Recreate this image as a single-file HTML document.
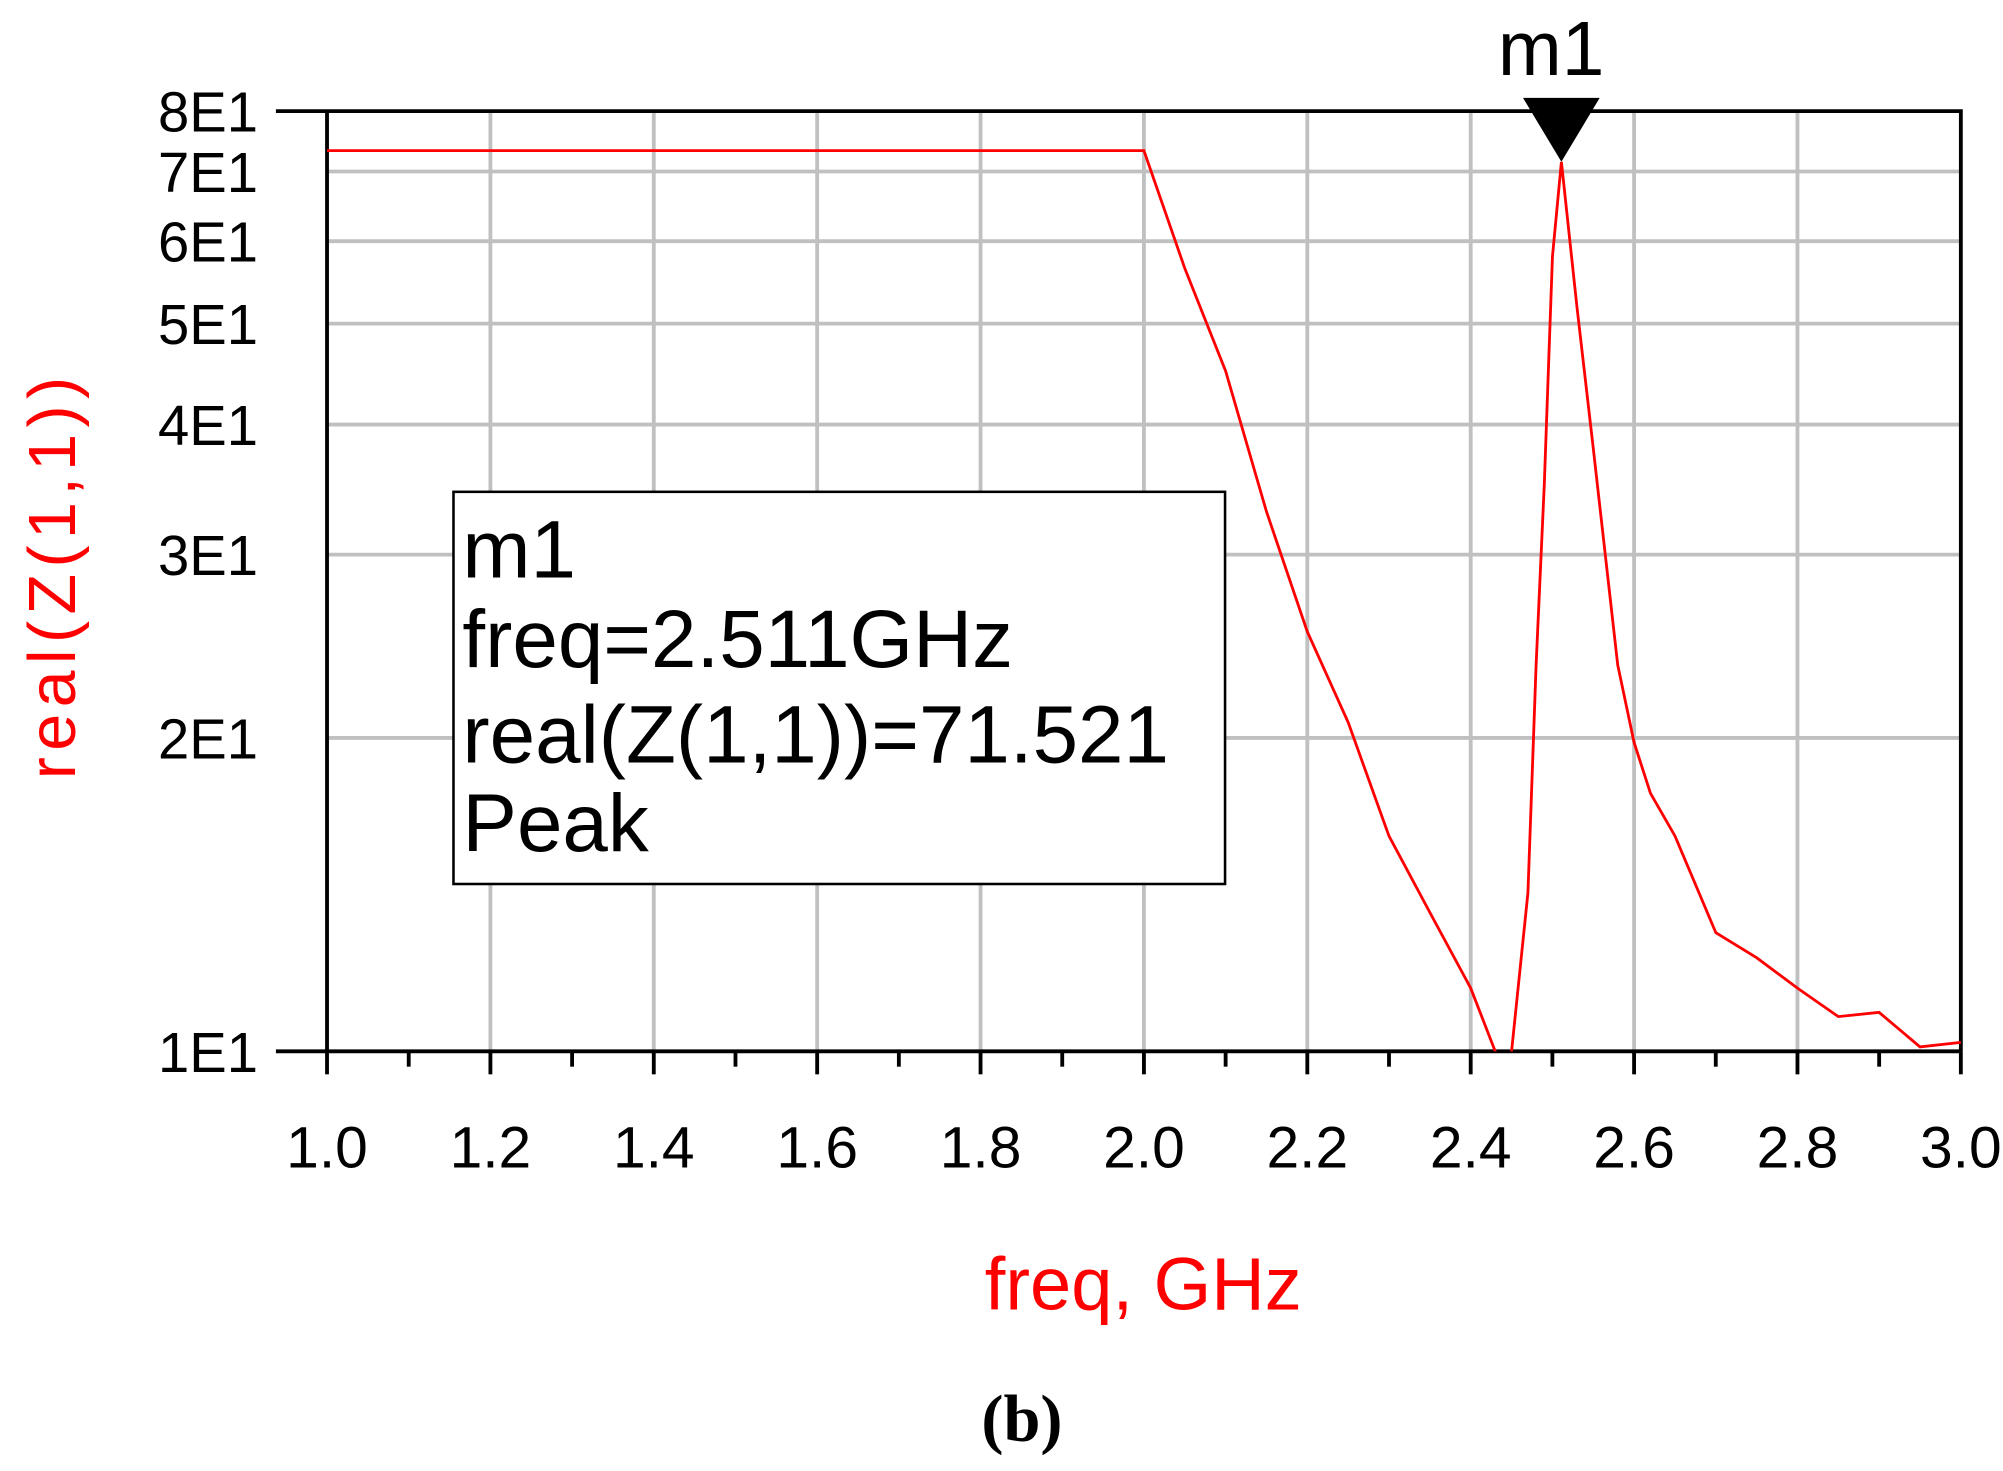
<!DOCTYPE html>
<html><head><meta charset="utf-8"><style>
html,body{margin:0;padding:0;background:#fff;}
svg{display:block;}
text{font-family:"Liberation Sans",Arial,sans-serif;}
</style></head><body>
<svg id="chart" width="2003" height="1471" viewBox="0 0 1568 1151.5" xmlns="http://www.w3.org/2000/svg">
<g id="grid"></g>
<g id="axes"></g>
<clipPath id="clip"><rect x="256" y="60" width="1280" height="763"/></clipPath>
<g id="series" clip-path="url(#clip)"></g>
<rect x="355" y="385" width="604" height="307" fill="#fff" stroke="#000" stroke-width="2"/>
<g font-size="64" fill="#000">
<text x="362" y="452">m1</text>
<text x="362" y="522">freq=2.511GHz</text>
<text x="362" y="597">real(Z(1,1))=71.521</text>
<text x="362" y="666">Peak</text>
</g>
<g id="marker"></g>
<text x="45" y="450" transform="rotate(-90 45 450)" text-anchor="middle" dominant-baseline="middle" font-size="52" letter-spacing="5" fill="#ff0000">real(Z(1,1))</text>
<text x="895" y="1025" text-anchor="middle" font-size="58" fill="#ff0000">freq, GHz</text>
<text x="800" y="1128" text-anchor="middle" font-size="52" font-weight="bold" fill="#000" style="font-family:'Liberation Serif',serif">(b)</text>
</svg>
<script>
const freqs=[1.0,2.0,2.05,2.1,2.15,2.2,2.25,2.3,2.35,2.4,2.43,2.44,2.45,2.47,2.48,2.49,2.5,2.511,2.53,2.55,2.58,2.6,2.62,2.65,2.7,2.75,2.8,2.85,2.9,2.95,3.0];
const values=[73.3,73.3,56.5,45,33,25.3,20.7,16.1,13.6,11.5,10,9,10,14.2,23.5,35,58,71.5,52,38,23.5,19.8,17.7,16.1,13,12.3,11.5,10.8,10.9,10.1,10.2];
const xTicks=[1.0,1.2,1.4,1.6,1.8,2.0,2.2,2.4,2.6,2.8,3.0];
const xTickLabels=["1.0","1.2","1.4","1.6","1.8","2.0","2.2","2.4","2.6","2.8","3.0"];
const yTicks=[10,20,30,40,50,60,70,80];
const yTickLabels=["1E1","2E1","3E1","4E1","5E1","6E1","7E1","8E1"];
const markerFreq=2.511, markerValue=71.521;

const L=256,R=1535,B=823,PPD=815;
const xs=f=>L+(f-1)/(3-1)*(R-L);
const ys=v=>B-Math.log10(v/10)*PPD;
const NS="http://www.w3.org/2000/svg";
function mk(tag,attrs,parent){const e=document.createElementNS(NS,tag);for(const k in attrs)e.setAttribute(k,attrs[k]);parent.appendChild(e);return e;}
const grid=document.getElementById('grid'),axes=document.getElementById('axes'),series=document.getElementById('series'),marker=document.getElementById('marker');
xTicks.forEach((t,i)=>{
  const x=xs(t);
  if(i>0&&i<xTicks.length-1){const g=mk('line',{x1:x,x2:x,y1:ys(80),y2:B,stroke:'#c0c0c0','stroke-width':3},grid);
  
  }
  const tk=mk('line',{x1:x,x2:x,y1:B,y2:B+18,stroke:'#000','stroke-width':3},axes);
  
  
  const lb=mk('text',{x:x,y:914,'text-anchor':'middle','font-size':46,fill:'#000'},axes);
  lb.textContent=xTickLabels[i];
  
  
  if(i<xTicks.length-1){const xm=xs(t+0.1);const m=mk('line',{x1:xm,x2:xm,y1:B,y2:B+12,stroke:'#000','stroke-width':3},axes);
  
  }
});
yTicks.forEach((v,i)=>{
  const y=ys(v);
  if(i>0&&i<yTicks.length-1){const g=mk('line',{x1:L,x2:R,y1:y,y2:y,stroke:'#c0c0c0','stroke-width':3},grid);
  
  }
  const lb=mk('text',{x:202,y:y+16,'text-anchor':'end','font-size':44,fill:'#000'},axes);
  lb.textContent=yTickLabels[i];
  
  
});
const frame=mk('path',{d:`M216 ${ys(80)}H${R}V${B}M216 ${B}H${R}M${L} ${ys(80)}V${B}`,stroke:'#000','stroke-width':3,fill:'none'},axes);


const d=freqs.map((f,i)=>(i?'L':'M')+xs(f).toFixed(1)+' '+ys(values[i]).toFixed(1)).join(' ');
const line=mk('path',{d:d,stroke:'#ff0000','stroke-width':2.2,fill:'none'},series);


const mx=xs(markerFreq),my=ys(markerValue);
const tri=mk('path',{d:`M${mx-30} ${my-50}H${mx+30}L${mx} ${my}Z`,fill:'#000'},marker);


const ml=mk('text',{x:mx-8,y:my-68,'text-anchor':'middle','font-size':60,fill:'#000'},marker);
ml.textContent='m1';


</script>
</body></html>
